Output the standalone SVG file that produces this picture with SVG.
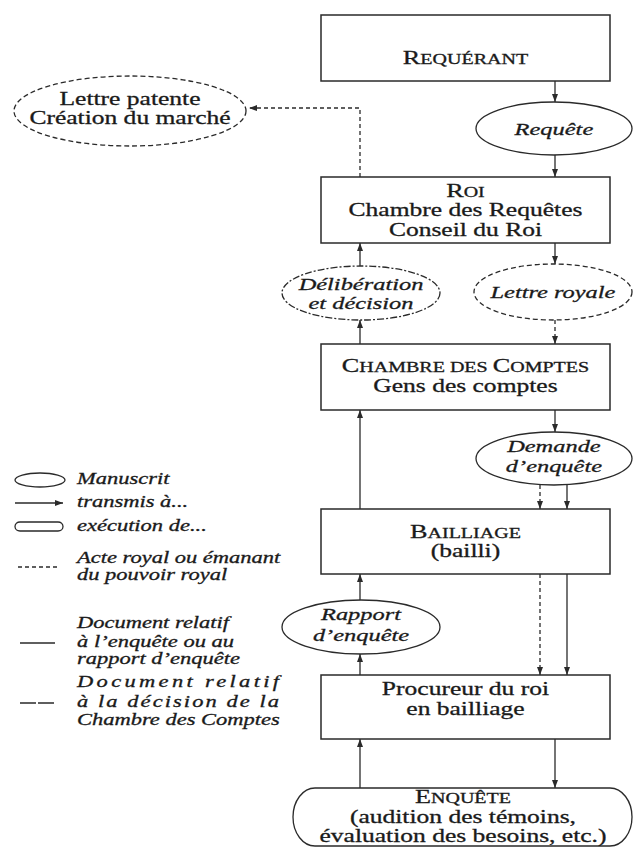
<svg xmlns="http://www.w3.org/2000/svg" width="634" height="848" viewBox="0 0 634 848">
  <defs>
    <marker id="arrow" viewBox="0 0 8 6" refX="8" refY="3" markerWidth="8" markerHeight="6" markerUnits="userSpaceOnUse" orient="auto">
      <path d="M0,0 L8,3 L0,6 z" fill="#2a2a2a"/>
    </marker>
    <style>
      .box { fill: #fff; stroke: #2a2a2a; stroke-width: 1.5; }
      .doc { fill: #fff; stroke: #2a2a2a; stroke-width: 1.3; }
      .royal { stroke-dasharray: 5 3; }
      .decision { stroke-dasharray: 7 2 2 2; }
      .link { fill: none; stroke: #2a2a2a; stroke-width: 1.3; marker-end: url(#arrow); }
      .link.dash { stroke-dasharray: 4 3; }
      .legline { fill: none; stroke: #2a2a2a; stroke-width: 1.3; }
      text { font-family: "Liberation Serif", "Times New Roman", serif; fill: #1a1a1a; stroke: #1a1a1a; stroke-width: 0.3; }
      .t { font-size: 18.5px; text-anchor: middle; }
      .it { font-size: 17.7px; font-style: italic; text-anchor: middle; }
      .big { font-size: 19px; }
      .sc { font-size: 14.5px; }
      .leg { font-size: 16.3px; font-style: italic; }
    </style>
  </defs>
  <rect width="634" height="848" fill="#fff"/>

  <!-- connectors -->
  <g id="connectors">
    <path class="link" d="M555,81 V102"/>
    <path class="link" d="M555,155 V177"/>
    <path class="link dash" d="M360,177 V108 H249"/>
    <path class="link" d="M555,243 V264"/>
    <path class="link" d="M360,266 V243"/>
    <path class="link" d="M360,344 V320"/>
    <path class="link dash" d="M555,320 V344"/>
    <path class="link" d="M555,410 V432"/>
    <path class="link dash" d="M540,485 V509"/>
    <path class="link" d="M567,484 V509"/>
    <path class="link" d="M360,509 V410"/>
    <path class="link" d="M360,600 V574"/>
    <path class="link" d="M360,675 V654"/>
    <path class="link dash" d="M540,574 V675"/>
    <path class="link" d="M567,574 V675"/>
    <path class="link" d="M360,788 V739"/>
    <path class="link" d="M555,739 V788"/>
  </g>

  <!-- nodes: shapes -->
  <g id="requerant"><rect class="box" x="321" y="15" width="289" height="66"/></g>
  <g id="requete"><ellipse class="doc" cx="554" cy="128.5" rx="78" ry="26.5"/></g>
  <g id="lettre-patente"><ellipse class="doc royal" cx="130" cy="111" rx="116" ry="35"/></g>
  <g id="roi"><rect class="box" x="321" y="177" width="289" height="66"/></g>
  <g id="deliberation"><ellipse class="doc decision" cx="361" cy="293" rx="79" ry="27"/></g>
  <g id="lettre-royale"><ellipse class="doc royal" cx="553" cy="292" rx="79" ry="28"/></g>
  <g id="chambre-comptes"><rect class="box" x="321" y="344" width="289" height="66"/></g>
  <g id="demande-enquete"><ellipse class="doc" cx="554" cy="458.5" rx="78" ry="26.5"/></g>
  <g id="bailliage"><rect class="box" x="321" y="509" width="289" height="65"/></g>
  <g id="rapport-enquete"><ellipse class="doc" cx="361" cy="627" rx="79" ry="27"/></g>
  <g id="procureur"><rect class="box" x="321" y="675" width="289" height="64"/></g>
  <g id="enquete"><rect class="doc" x="293" y="788" width="339" height="58" rx="22" ry="29"/></g>

  <!-- legend symbols -->
  <g id="legend">
    <ellipse class="legline" cx="40" cy="480" rx="25" ry="7"/>
    <path class="link" d="M15,503 H63"/>
    <rect class="legline" x="15" y="522" width="48" height="9" rx="5" ry="4.5"/>
    <path class="legline" d="M18,567 H60" stroke-dasharray="4 3"/>
    <path class="legline" d="M20,643 H55"/>
    <path class="legline" d="M20,703 H55" stroke-dasharray="16 2"/>
  </g>

  <!-- all lettering, set wide -->
  <g transform="scale(1.38,1)">
    <text class="t" x="337.3" y="64"><tspan class="big">R</tspan><tspan class="sc">EQUÉRANT</tspan></text>
    <text class="it" x="401.4" y="135">Requête</text>
    <text class="t" x="94.2" y="105">Lettre patente</text>
    <text class="t" x="94.2" y="124">Création du marché</text>
    <text class="t" x="337.3" y="197"><tspan class="big">R</tspan><tspan class="sc">OI</tspan></text>
    <text class="t" x="337.3" y="216">Chambre des Requêtes</text>
    <text class="t" x="337.3" y="236">Conseil du Roi</text>
    <text class="it" x="261.6" y="290">Délibération</text>
    <text class="it" x="261.6" y="309">et décision</text>
    <text class="it" x="400.7" y="298">Lettre royale</text>
    <text class="t" x="337.3" y="372"><tspan class="big">C</tspan><tspan class="sc">HAMBRE DES </tspan><tspan class="big">C</tspan><tspan class="sc">OMPTES</tspan></text>
    <text class="t" x="337.3" y="392">Gens des comptes</text>
    <text class="it" x="401.4" y="452">Demande</text>
    <text class="it" x="401.4" y="472">d’enquête</text>
    <text class="t" x="337.3" y="538"><tspan class="big">B</tspan><tspan class="sc">AILLIAGE</tspan></text>
    <text class="t" x="337.3" y="557">(bailli)</text>
    <text class="it" x="261.6" y="620">Rapport</text>
    <text class="it" x="261.6" y="641">d’enquête</text>
    <text class="t" x="337.3" y="695">Procureur du roi</text>
    <text class="t" x="337.3" y="715">en bailliage</text>
    <text class="t" x="335.5" y="803"><tspan class="big">E</tspan><tspan class="sc">NQUÊTE</tspan></text>
    <text class="t" x="335.5" y="823">(audition des témoins,</text>
    <text class="t" x="335.5" y="842">évaluation des besoins, etc.)</text>

    <text class="leg" x="55.8" y="484">Manuscrit</text>
    <text class="leg" x="55.8" y="507">transmis à...</text>
    <text class="leg" x="55.8" y="531">exécution de...</text>
    <text class="leg" x="55.8" y="563">Acte royal ou émanant</text>
    <text class="leg" x="55.8" y="580">du pouvoir royal</text>
    <text class="leg" x="55.8" y="628">Document relatif</text>
    <text class="leg" x="55.8" y="647" textLength="113.8" lengthAdjust="spacing">à l’enquête ou au</text>
    <text class="leg" x="55.8" y="664">rapport d’enquête</text>
    <text class="leg" x="55.8" y="687" textLength="146.4" lengthAdjust="spacing">Document relatif</text>
    <text class="leg" x="55.8" y="707" textLength="146.4" lengthAdjust="spacing">à la décision de la</text>
    <text class="leg" x="55.8" y="725">Chambre des Comptes</text>
  </g>
</svg>
